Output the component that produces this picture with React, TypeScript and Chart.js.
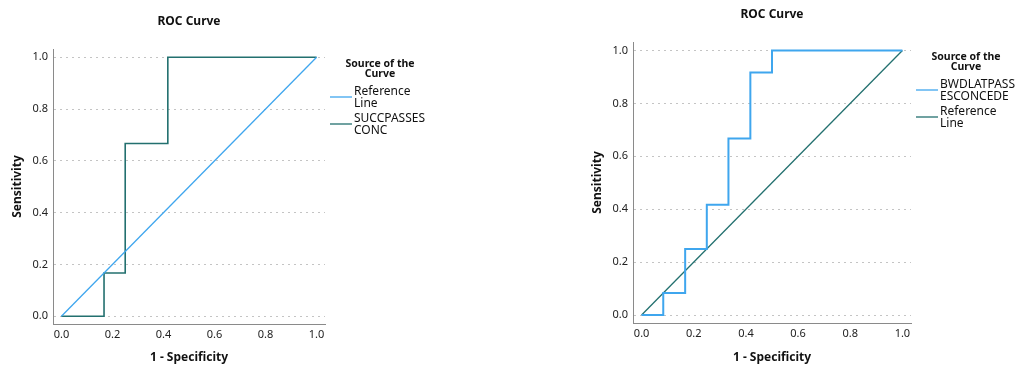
import React, { useEffect, useRef } from "react";
import { Chart, registerables } from "chart.js";

Chart.register(...registerables);

// ---- Data ----
const chartTitle = "ROC Curve";
const xAxisTitle = "1 - Specificity";
const yAxisTitle = "Sensitivity";
const legendTitle = ["Source of the", "Curve"];
const tickValues = [0, 0.2, 0.4, 0.6, 0.8, 1.0];

// Left chart: SUCCPASSESCONC
const succFpr = [0, 0.167, 0.167, 0.25, 0.25, 0.417, 0.417, 1];
const succTpr = [0, 0, 0.167, 0.167, 0.667, 0.667, 1, 1];
const succLabel = ["SUCCPASSES", "CONC"];

// Right chart: BWDLATPASSESCONCEDE
const bwdFpr = [0, 0.083, 0.083, 0.167, 0.167, 0.25, 0.25, 0.333, 0.333, 0.417, 0.417, 0.5, 0.5, 1];
const bwdTpr = [0, 0, 0.083, 0.083, 0.25, 0.25, 0.417, 0.417, 0.667, 0.667, 0.917, 0.917, 1, 1];
const bwdLabel = ["BWDLATPASS", "ESCONCEDE"];

// Reference line
const refFpr = [0, 1];
const refTpr = [0, 1];
const refLabel = ["Reference", "Line"];

const BLUE = "#3fa6ee";
const TEAL = "#23706f";
const FONT = "'Noto Sans', 'DejaVu Sans', sans-serif";

const toPts = (xs: number[], ys: number[]) => xs.map((x, i) => ({ x, y: ys[i] }));

const legendPlugin = {
  id: "rocLegend",
  afterDraw(chart: any) {
    const { ctx, chartArea } = chart;
    const opts = chart.options.plugins.rocLegend;
    const x0 = chartArea.right;
    const top = chartArea.top;
    ctx.save();
    ctx.fillStyle = "#111";
    ctx.textAlign = "center";
    ctx.textBaseline = "middle";
    ctx.font = `bold 10.5px ${FONT}`;
    legendTitle.forEach((t: string, i: number) => {
      ctx.fillText(t, x0 + 55, top + 15 + i * 10.5);
    });
    ctx.textAlign = "left";
    ctx.font = `12px ${FONT}`;
    chart.data.datasets.forEach((ds: any, i: number) => {
      const lineY = top + 48 + i * 27;
      ctx.strokeStyle = ds.borderColor;
      ctx.lineWidth = 1.3;
      ctx.beginPath();
      ctx.moveTo(x0 + 5, lineY);
      ctx.lineTo(x0 + 27, lineY);
      ctx.stroke();
      ctx.fillStyle = "#111";
      ds.labelLines.forEach((t: string, j: number) => {
        ctx.fillText(t, x0 + 29, lineY - 5 + j * 12);
      });
    });
    ctx.restore();
  },
};

const titlePlugin = {
  id: "rocTitle",
  afterDraw(chart: any) {
    const { ctx, chartArea } = chart;
    const off = chart.options.plugins.rocTitle.offset;
    ctx.save();
    ctx.fillStyle = "#111";
    ctx.font = `bold 12px ${FONT}`;
    ctx.textAlign = "center";
    ctx.textBaseline = "middle";
    ctx.fillText(chartTitle, (chartArea.left + chartArea.right) / 2, chartArea.top - off);
    ctx.restore();
  },
};

function makeConfig(datasets: any[], pad: any, yWidth: number, xHeight: number, titleOff: number) {
  return {
    type: "line",
    data: { datasets },
    options: {
      animation: false,
      responsive: false,
      layout: { padding: pad },
      plugins: {
        legend: { display: false },
        title: { display: false },
        tooltip: { enabled: false },
        rocTitle: { offset: titleOff },
      },
      elements: { point: { radius: 0 } },
      scales: {
        x: {
          type: "linear",
          min: -0.033,
          max: 1.033,
          afterBuildTicks: (s: any) => {
            s.ticks = tickValues.map((v) => ({ value: v }));
          },
          afterFit: (s: any) => {
            s.height = xHeight;
          },
          grid: { display: false, drawTicks: false },
          border: { display: true, color: "#8a8a8a", width: 1 },
          ticks: {
            padding: 4,
            color: "#222",
            font: { family: FONT, size: 11 },
            maxRotation: 0,
            callback: (v: any) => Number(v).toFixed(1),
          },
          title: {
            display: true,
            text: xAxisTitle,
            color: "#111",
            padding: 0,
            font: { family: FONT, size: 12, weight: "bold" },
          },
        },
        y: {
          type: "linear",
          min: -0.03,
          max: 1.032,
          afterBuildTicks: (s: any) => {
            s.ticks = tickValues.map((v) => ({ value: v }));
          },
          afterFit: (s: any) => {
            s.width = yWidth;
          },
          grid: { display: true, drawTicks: false, color: "#c4c4c4", lineWidth: 1 },
          border: { display: true, color: "#8a8a8a", width: 1, dash: [2, 4] },
          ticks: {
            padding: 5,
            color: "#222",
            font: { family: FONT, size: 11 },
            callback: (v: any) => Number(v).toFixed(1),
          },
          title: {
            display: true,
            text: yAxisTitle,
            color: "#111",
            padding: 0,
            font: { family: FONT, size: 12, weight: "bold" },
          },
        },
      },
    },
    plugins: [legendPlugin, titlePlugin],
  };
}

function RocChart({ config, left, width }: { config: any; left: number; width: number }) {
  const ref = useRef<HTMLCanvasElement | null>(null);
  useEffect(() => {
    if (!ref.current) return;
    const chart = new Chart(ref.current, config);
    return () => chart.destroy();
  }, []);
  return (
    <canvas
      ref={ref}
      width={width}
      height={365}
      style={{ position: "absolute", left, top: 0, width, height: 365 }}
    />
  );
}

export default function App() {
  const leftConfig = makeConfig(
    [
      {
        label: "Reference Line",
        labelLines: refLabel,
        data: toPts(refFpr, refTpr),
        borderColor: BLUE,
        borderWidth: 1.3,
        tension: 0,
      },
      {
        label: "SUCCPASSESCONC",
        labelLines: succLabel,
        data: toPts(succFpr, succTpr),
        borderColor: TEAL,
        borderWidth: 1.6,
        tension: 0,
      },
    ],
    { left: 10, top: 49, right: 115, bottom: 0 },
    43,
    41,
    27
  );
  const rightConfig = makeConfig(
    [
      {
        label: "BWDLATPASSESCONCEDE",
        labelLines: bwdLabel,
        data: toPts(bwdFpr, bwdTpr),
        borderColor: BLUE,
        borderWidth: 2,
        tension: 0,
      },
      {
        label: "Reference Line",
        labelLines: refLabel,
        data: toPts(refFpr, refTpr),
        borderColor: TEAL,
        borderWidth: 1.3,
        tension: 0,
      },
    ],
    { left: 30, top: 42, right: 106, bottom: 0 },
    43,
    42,
    27
  );
  return (
    <div style={{ position: "absolute", left: 0, top: 0, width: 1017, height: 365, background: "#fff" }}>
      <RocChart config={leftConfig} left={0} width={440} />
      <RocChart config={rightConfig} left={560} width={457} />
    </div>
  );
}
